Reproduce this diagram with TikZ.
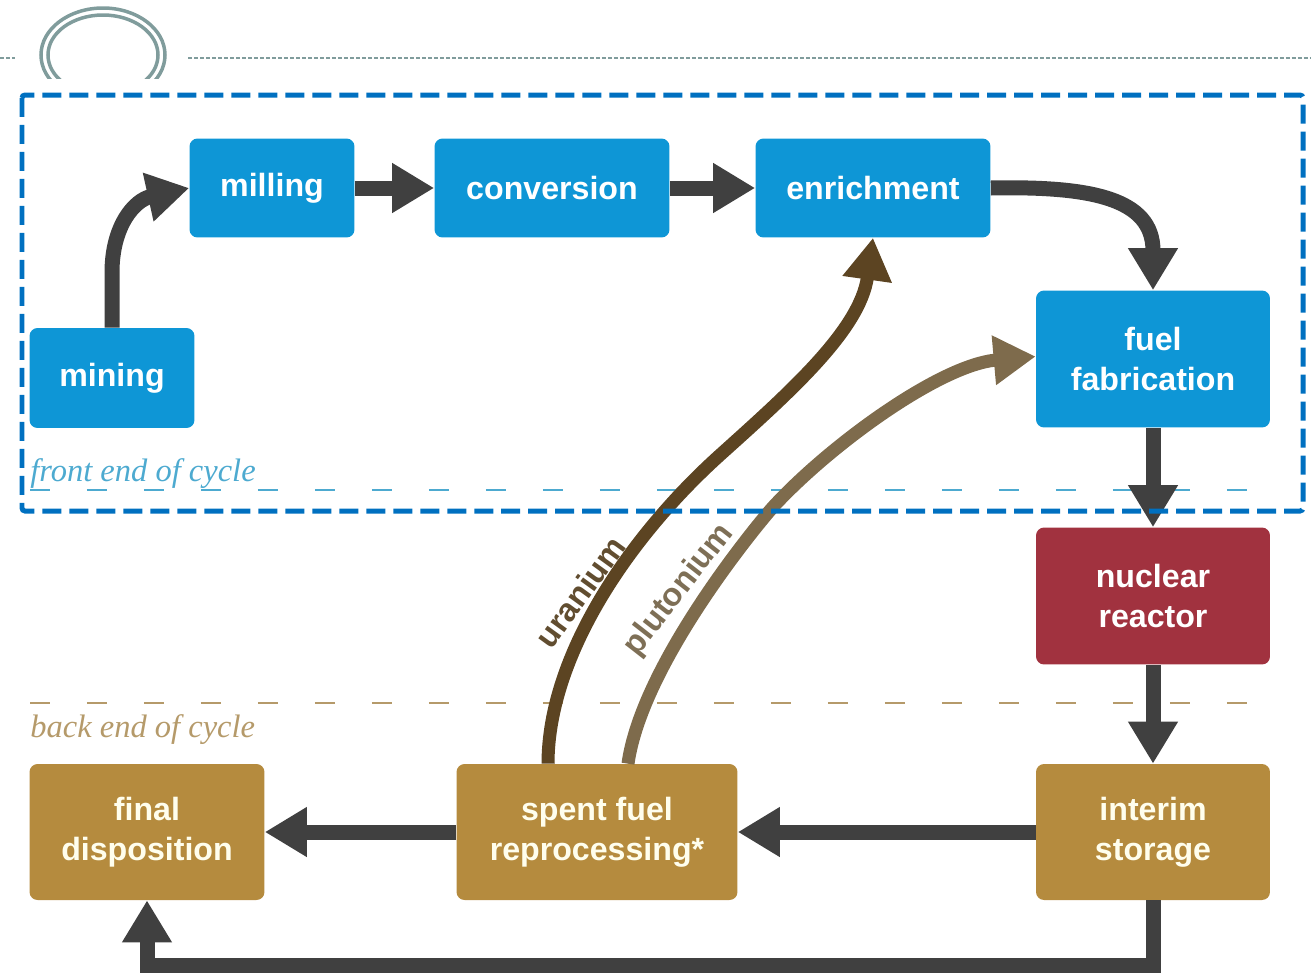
\documentclass[tikz,border=0pt]{standalone}
\usepackage{fontspec}
\setmainfont{Liberation Serif}
\setsansfont{Liberation Sans}
\usetikzlibrary{arrows.meta}

\definecolor{stageblue}{HTML}{0E96D6}
\definecolor{reactorred}{HTML}{A1323F}
\definecolor{backgold}{HTML}{B58B3E}
\definecolor{flowgray}{HTML}{404040}
\definecolor{urancolor}{HTML}{5C4422}
\definecolor{plutcolor}{HTML}{7E6B4C}
\definecolor{framecolor}{HTML}{0070C0}
\definecolor{frontcolor}{HTML}{4DAAD0}
\definecolor{backcolor}{HTML}{B59A6A}
\definecolor{decogray}{HTML}{809C9C}

\begin{document}
\begin{tikzpicture}
  [x=0.02cm, y=-0.02cm,
    >={Triangle[width=0.94cm,length=0.84cm]},
    stage/.style={
      rectangle, rounded corners=0.16cm, align=center, inner sep=0pt,
      text=white, font=\fontsize{18.3}{22.7}\selectfont\sffamily\bfseries
    },
    frontstage/.style={stage, fill=stageblue},
    reactorstage/.style={stage, fill=reactorred},
    backstage/.style={stage, fill=backgold, text=white!93!yellow},
    flow/.style={->, draw=flowgray, line width=0.3cm},
    recycle/.style={->, line width=0.26cm},
    phase/.style={line width=0.04cm, dash pattern=on 0.4cm off 0.74cm},
    phaselabel/.style={anchor=base west, inner sep=0pt,
      font=\fontsize{18.5}{20}\selectfont\itshape},
    streamlabel/.style={inner sep=0pt,
      font=\fontsize{18.5}{20}\selectfont\sffamily\bfseries},
  ]
  \useasboundingbox (0,0) rectangle (1311,974);

  % Slide decoration
  \draw[decogray, line width=0.03cm, dash pattern=on 0.08cm off 0.04cm]
    (0,58) -- (15,58) (188,58) -- (1311,58);
  \begin{scope}
    \clip (0,0) rectangle (1311,78);
    \draw[decogray, line width=0.07cm] (103,55) ellipse [x radius=62, y radius=47];
    \draw[decogray, line width=0.07cm] (103,55) ellipse [x radius=55, y radius=40];
  \end{scope}

  % Stages
  \node[frontstage, minimum width=3.3cm, minimum height=2cm] (mining) at (112,378) {mining};
  \node[frontstage, minimum width=3.3cm, minimum height=1.98cm] (milling) at (272,188) {milling};
  \node[frontstage, minimum width=4.7cm, minimum height=1.98cm] (conversion) at (552,188) {conversion};
  \node[frontstage, minimum width=4.7cm, minimum height=1.98cm] (enrichment) at (873,188) {enrichment};
  \node[frontstage, minimum width=4.68cm, minimum height=2.74cm] (fuel) at (1153,359) {fuel\\fabrication};
  \node[reactorstage, minimum width=4.68cm, minimum height=2.74cm] (reactor) at (1153,596) {nuclear\\reactor};
  \node[backstage, minimum width=4.68cm, minimum height=2.72cm] (interim) at (1153,832) {interim\\storage};
  \node[backstage, minimum width=5.62cm, minimum height=2.72cm] (spent) at (597,832) {spent fuel\\reprocessing*};
  \node[backstage, minimum width=4.7cm, minimum height=2.72cm] (final) at (147,832) {final\\disposition};

  % Front end and back end
  \draw[phase, frontcolor] (30,490) -- (1270,490);
  \node[phaselabel, text=frontcolor] (frontlabel) at (30,481) {front end of cycle};
  \draw[phase, backcolor] (30,703) -- (1270,703);
  \node[phaselabel, text=backcolor] (backlabel) at (30,737) {back end of cycle};

  % Main flow
  \draw[flow] (mining.north) -- ++(0,-55) .. controls (112,225) and (135,200) .. (milling.west);
  \draw[flow] (milling) -- (conversion);
  \draw[flow] (conversion) -- (enrichment);
  \draw[flow] (enrichment.east) .. controls (1090,186) and (1153,198) .. (fuel.north);
  \draw[flow] (fuel) -- (reactor);
  \draw[flow] (reactor) -- (interim);
  \draw[flow] (interim) -- (spent);
  \draw[flow] (spent) -- (final);
  \draw[flow] (interim.south) -- ++(0,65) -| (final.south);

  % Recycled material
  \draw[recycle, urancolor] ([xshift=-0.98cm]spent.north)
    .. controls (548,656) and (629,537) .. (720,455)
    .. controls (790,392) and (860,330) .. (enrichment.south);
  \draw[recycle, plutcolor] ([xshift=0.62cm]spent.north)
    .. controls (642,664) and (757,525) .. (773,507)
    .. controls (830,445) and (940,365) .. ([yshift=0.05cm]fuel.west);
  \node[streamlabel, text=urancolor!85!gray, rotate=54] (uranium) at (580,592) {uranium};
  \node[streamlabel, text=plutcolor!80!gray, rotate=52] (plutonium) at (679,590) {plutonium};

  % Front end frame
  \draw[framecolor, line width=0.1cm, dash pattern=on 0.38cm off 0.16cm, rounded corners=0.06cm]
    (22,95) rectangle (1303,511);
\end{tikzpicture}
\end{document}
